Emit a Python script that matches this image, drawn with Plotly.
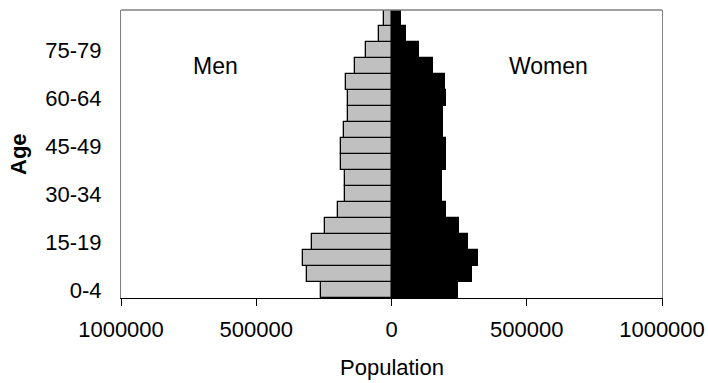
import plotly.graph_objects as go

ages = ["0-4", "5-9", "10-14", "15-19", "20-24", "25-29", "30-34", "35-39",
        "40-44", "45-49", "50-54", "55-59", "60-64", "65-69", "70-74",
        "75-79", "80-84", "85+"]
men = [260000, 314000, 326000, 294000, 246000, 199000, 172000, 172000,
       186000, 187000, 174000, 160000, 160000, 167000, 134000, 93500,
       45400, 25900]
women = [244000, 298000, 318000, 284000, 250000, 203000, 185000, 185000,
         203000, 203000, 191000, 191000, 203000, 196000, 155000, 102000,
         54300, 34700]
x_tickvals = [-1000000, -500000, 0, 500000, 1000000]
x_ticktext = ["1000000", "500000", "0", "500000", "1000000"]
y_ticks = ["0-4", "15-19", "30-34", "45-49", "60-64", "75-79"]

FONT = "Liberation Sans, Arial, sans-serif"

fig = go.Figure()
fig.add_trace(go.Bar(
    y=ages, x=[-v for v in men], orientation="h", name="Men",
    marker=dict(color="#C0C0C0", line=dict(color="black", width=1.3)),
))
fig.add_trace(go.Bar(
    y=ages, x=women, orientation="h", name="Women",
    marker=dict(color="black", line=dict(color="black", width=1.3)),
))

fig.update_layout(
    width=708, height=383,
    margin=dict(l=121, r=46, t=10, b=85, autoexpand=False),
    barmode="relative", bargap=0,
    showlegend=False,
    plot_bgcolor="white", paper_bgcolor="white",
    font=dict(family=FONT, size=22, color="black"),
    xaxis=dict(
        range=[-1000000, 1000000], tickmode="array",
        tickvals=x_tickvals, ticktext=x_ticktext,
        showgrid=False, zeroline=False, automargin=False,
        showline=True, linecolor="black", linewidth=1.3,
        ticks="outside", ticklen=7, tickcolor="black", tickwidth=1.3,
        ticklabelstandoff=4,
        tickfont=dict(size=22),
    ),
    yaxis=dict(
        type="category", categoryorder="array", categoryarray=ages,
        range=[-0.5, len(ages) - 0.5], automargin=False,
        tickmode="array", tickvals=y_ticks, ticktext=y_ticks,
        showgrid=False, zeroline=False,
        showline=True, linecolor="#808080", linewidth=1.3, mirror=True,
        ticks="", ticklabelstandoff=14,
        tickfont=dict(size=22),
    ),
    shapes=[dict(type="line", xref="paper", yref="paper", x0=0, x1=1, y0=1, y1=1,
                 line=dict(color="#808080", width=1.3), layer="above")],
    annotations=[
        dict(text="Men", x=-650000, y=ages[14], xref="x", yref="y",
             showarrow=False, font=dict(size=23)),
        dict(text="Women", x=580000, y=ages[14], xref="x", yref="y",
             showarrow=False, font=dict(size=23)),
        dict(text="Population", x=0, xref="x", y=0, yref="paper",
             yanchor="bottom", yshift=-84, showarrow=False,
             font=dict(size=22)),
        dict(text="<b>Age</b>", x=0, xref="paper", xanchor="center",
             xshift=-103, y=0.5, yref="paper", yanchor="middle",
             textangle=-90, showarrow=False, font=dict(size=22)),
    ],
)

fig.write_html("out.html")
